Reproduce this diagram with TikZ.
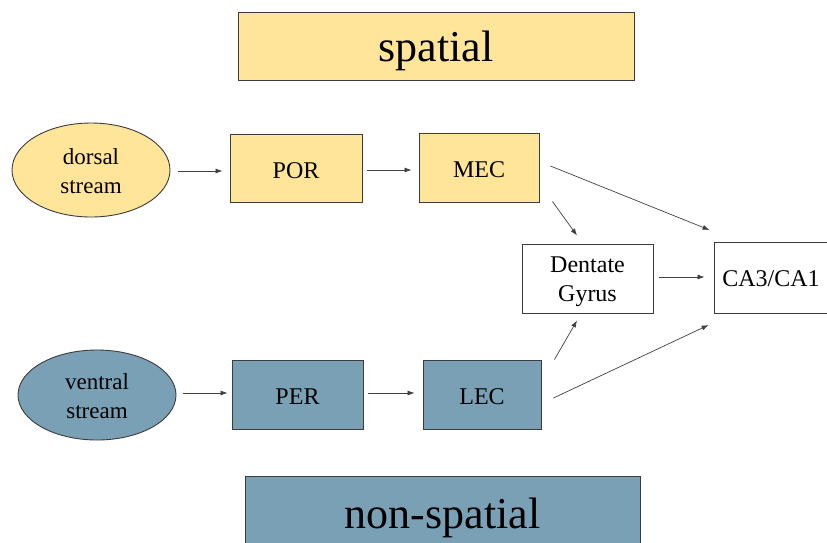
\documentclass[tikz,border=0pt]{standalone}
\usepackage{fontspec}
\setmainfont{Liberation Serif}
\usetikzlibrary{shapes.geometric,arrows.meta}
\definecolor{spyellow}{RGB}{255,229,153}
\definecolor{spblue}{RGB}{122,160,181}
\definecolor{edgegray}{RGB}{60,60,60}
\tikzset{
  box/.style={draw=edgegray,line width=0.9pt,rectangle,inner sep=0pt,align=center,font=\fontsize{24}{29}\selectfont,text depth=0pt},
  oval/.style={draw=edgegray,line width=0.9pt,ellipse,inner sep=0pt,align=center,font=\fontsize{23}{29}\selectfont,minimum width=158pt,text depth=0pt},
  title/.style={draw=edgegray,line width=0.9pt,rectangle,inner sep=0pt,font=\fontsize{44}{50}\selectfont,text depth=0pt},
  arr/.style={draw=black!75,line width=0.7pt,-{Latex[length=7pt,width=5pt]}},
}
\begin{document}
\begin{tikzpicture}[x=1pt,y=-1pt]
\useasboundingbox (0,0) rectangle (827,542);
\clip (0,0) rectangle (827,542);
% titles
\node[title,fill=spyellow,minimum width=396pt,minimum height=68pt,text height=31pt] (spatial) at (436,46) {spatial};
\node[title,fill=spblue,minimum width=395pt,minimum height=80pt,text height=24pt] (nonspatial) at (442.5,516) {non-spatial};
% dorsal row
\node[oval,fill=spyellow,minimum height=94pt,text height=47pt] (dorsal) at (91,170) {dorsal\\stream};
\node[box,fill=spyellow,minimum width=132pt,minimum height=68pt,text height=20.5pt] (POR) at (296,168) {POR};
\node[box,fill=spyellow,minimum width=120pt,minimum height=69pt,text height=20.5pt] (MEC) at (479,167.5) {MEC};
% ventral row
\node[oval,fill=spblue,minimum height=90pt,text height=46pt] (ventral) at (97,395) {ventral\\stream};
\node[box,fill=spblue,minimum width=131pt,minimum height=69pt,text height=20.5pt] (PER) at (297.5,394.5) {PER};
\node[box,fill=spblue,minimum width=118pt,minimum height=69pt,text height=20.5pt] (LEC) at (482,394.5) {LEC};
% hippocampus
\node[box,fill=white,minimum width=131pt,minimum height=69pt,text height=45pt] (DG) at (587.5,278.5) {Dentate\\Gyrus};
\node[box,fill=white,minimum width=114pt,minimum height=71pt,text height=18.5pt] (CA) at (771,277.5) {CA3/CA1};
% connectors
\draw[arr] ([xshift=8pt,yshift=-1pt]dorsal.east) -- ([xshift=-7pt,yshift=-3pt]POR.west);
\draw[arr] ([xshift=5pt,yshift=-2pt]POR.east) -- ([xshift=-7pt,yshift=-2.5pt]MEC.west);
\draw[arr] ([xshift=7pt,yshift=2pt]ventral.east) -- ([xshift=-4pt,yshift=1.5pt]PER.west);
\draw[arr] ([xshift=5pt,yshift=1.5pt]PER.east) -- ([xshift=-8pt,yshift=1.5pt]LEC.west);
\draw[arr] ([xshift=11pt,yshift=1.5pt]MEC.east) -- ([xshift=-4pt,yshift=47.5pt]CA.west);
\draw[arr] ([xshift=13pt,yshift=1pt]MEC.south east) -- ([xshift=-10.5pt,yshift=8pt]DG.north);
\draw[arr] ([xshift=6pt,yshift=1.5pt]DG.east) -- ([xshift=-9pt,yshift=0.5pt]CA.west);
\draw[arr] ([xshift=13pt]LEC.north east) -- ([xshift=-10.5pt,yshift=-7pt]DG.south);
\draw[arr] ([xshift=12pt,yshift=-3.5pt]LEC.east) -- ([xshift=-5pt,yshift=-47.5pt]CA.west);
\end{tikzpicture}
\end{document}
